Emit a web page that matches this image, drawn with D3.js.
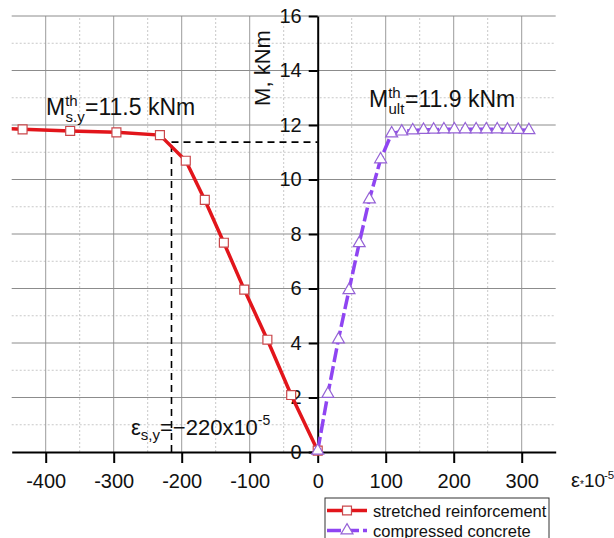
<!DOCTYPE html>
<html>
<head>
<meta charset="utf-8">
<script src="https://cdn.jsdelivr.net/npm/d3@7"></script>
<style>
  body { margin: 0; background: #fff; }
  text { font-family: "Liberation Sans", Arial, sans-serif; fill: #111; }
</style>
</head>
<body>
<svg id="chart"></svg>
<script>
// strain, x10^-5
const reinfStrain = [-465, -434, -364, -296, -232, -194, -166, -138, -108, -74, -39, 0];
// moment, kNm
const reinfMoment = [11.88, 11.84, 11.78, 11.73, 11.63, 10.69, 9.25, 7.68, 5.96, 4.12, 2.09, 0.05];

const concStrain = [0, 15, 30.5, 46, 61, 76, 92.5, 108.8, 123.6, 139.8, 155.6, 170.5, 185.6, 201, 217, 233, 248, 264, 279, 295, 310.6];
const concMoment = [0.05, 2.13, 4.13, 5.94, 7.66, 9.27, 10.74, 11.69, 11.76, 11.8, 11.82, 11.83, 11.84, 11.84, 11.84, 11.84, 11.84, 11.84, 11.83, 11.82, 11.81];

const seriesNames = ["stretched reinforcement", "compressed concrete"];
const xMajorTicks = [-400, -300, -200, -100, 0, 100, 200, 300];
const xMinorTicks = [-450, -350, -250, -150, -50, 50, 150, 250, 350];
const yMajorTicks = [0, 2, 4, 6, 8, 10, 12, 14, 16];
const yMinorTicks = [1, 3, 5, 7, 9, 11, 13, 15];

const yieldStrain = -215;
const yieldMoment = 11.37;

const W = 614, H = 538;
const red = "#e2151b", purple = "#8f45f2";

const svg = d3.select("#chart").attr("width", W).attr("height", H);

const x = d3.scaleLinear().domain([-450, 350]).range([11.7, 555.7]);
const y = d3.scaleLinear().domain([0, 16]).range([452, 16]);

// grid
const grid = svg.append("g");
grid.selectAll(".vminor").data(xMinorTicks.filter(d => d > -450 && d < 350)).join("line")
    .attr("x1", d => x(d)).attr("x2", d => x(d))
    .attr("y1", y(0)).attr("y2", y(16))
    .attr("stroke", "#c8c8c8").attr("stroke-dasharray", "2,2");
grid.selectAll(".hminor").data(yMinorTicks).join("line")
    .attr("x1", x(-450)).attr("x2", x(350))
    .attr("y1", d => y(d)).attr("y2", d => y(d))
    .attr("stroke", "#c8c8c8").attr("stroke-dasharray", "2,2");
grid.selectAll(".vmajor").data(xMajorTicks.filter(d => d !== 0)).join("line")
    .attr("x1", d => x(d)).attr("x2", d => x(d))
    .attr("y1", y(0)).attr("y2", y(16))
    .attr("stroke", "#9c9c9c");
grid.selectAll(".hmajor").data(yMajorTicks.filter(d => d !== 0)).join("line")
    .attr("x1", x(-450)).attr("x2", x(350))
    .attr("y1", d => y(d)).attr("y2", d => y(d))
    .attr("stroke", "#8c8c8c");

// axes (plain hyphen for negatives, like the original)
const fmt = d => String(d);
const xAxis = svg.append("g").attr("transform", `translate(0,${y(0)})`);
xAxis.call(d3.axisBottom(x).tickValues(xMinorTicks).tickSize(7).tickSizeOuter(0).tickFormat(""));
xAxis.call(d3.axisBottom(x).tickValues(xMajorTicks).tickSize(11).tickSizeOuter(0).tickPadding(11)
    .tickFormat(fmt));
xAxis.selectAll("path, line").attr("stroke", "#000").attr("stroke-width", 2);
xAxis.selectAll("text").attr("font-size", 20).attr("font-family", null).attr("fill", "#111");

const yAxis = svg.append("g").attr("transform", `translate(${x(0)},0)`);
yAxis.call(d3.axisLeft(y).tickValues(yMinorTicks).tickSize(5).tickSizeOuter(0).tickFormat(""));
yAxis.call(d3.axisLeft(y).tickValues(yMajorTicks).tickSize(9).tickSizeOuter(0).tickPadding(7)
    .tickFormat(fmt));
yAxis.selectAll("path, line").attr("stroke", "#000").attr("stroke-width", 2);
yAxis.selectAll("text").attr("font-size", 20).attr("font-family", null).attr("fill", "#111");

// dashed yield lines
svg.append("line")
    .attr("x1", x(yieldStrain)).attr("x2", x(yieldStrain))
    .attr("y1", y(0)).attr("y2", y(yieldMoment))
    .attr("stroke", "#000").attr("stroke-width", 1.6).attr("stroke-dasharray", "7,5");
svg.append("line")
    .attr("x1", x(yieldStrain)).attr("x2", x(0))
    .attr("y1", y(yieldMoment)).attr("y2", y(yieldMoment))
    .attr("stroke", "#000").attr("stroke-width", 1.6).attr("stroke-dasharray", "7,5");

// series
svg.append("clipPath").attr("id", "plotClip").append("rect")
    .attr("x", x(-450)).attr("y", 0).attr("width", x(350) - x(-450)).attr("height", H);
const plot = svg.append("g").attr("clip-path", "url(#plotClip)");

const reinf = reinfStrain.map((d, i) => [d, reinfMoment[i]]);
const conc = concStrain.map((d, i) => [d, concMoment[i]]);
const line = d3.line().x(d => x(d[0])).y(d => y(d[1]));

plot.append("path").datum(reinf).attr("d", line)
    .attr("fill", "none").attr("stroke", red).attr("stroke-width", 3.5);
plot.append("path").datum(conc).attr("d", line)
    .attr("fill", "none").attr("stroke", purple).attr("stroke-width", 3.5)
    .attr("stroke-dasharray", "14,4");

const square = d3.symbol().type(d3.symbolSquare).size(80);
const triangle = d3.symbol().type(d3.symbolTriangle).size(62);

plot.selectAll(".sq").data(reinf).join("path")
    .attr("d", square)
    .attr("transform", d => `translate(${x(d[0])},${y(d[1])})`)
    .attr("fill", "#fff").attr("stroke", "#c9474b").attr("stroke-width", 1.2);
plot.selectAll(".tri").data(conc).join("path")
    .attr("d", triangle)
    .attr("transform", d => `translate(${x(d[0])},${y(d[1])})`)
    .attr("fill", "#fff").attr("stroke", "#9562d6").attr("stroke-width", 1.2);

// axis titles
svg.append("text")
    .attr("transform", "translate(270,68) rotate(-90)")
    .attr("text-anchor", "middle").attr("font-size", 22)
    .text("M, kNm");

const xt = svg.append("text").attr("x", 571).attr("y", 487).attr("font-size", 20);
xt.append("tspan").text("ε");
xt.append("tspan").attr("x", 580).attr("font-size", 10).attr("dy", 1).text("*");
xt.append("tspan").attr("x", 584).attr("dy", -1).attr("font-size", 19).text("10");
xt.append("tspan").attr("x", 604).attr("font-size", 11.5).attr("dy", -8).text("-5");

// annotations
const m1 = svg.append("text").attr("x", 46).attr("y", 115).attr("font-size", 23);
m1.append("tspan").text("M");
m1.append("tspan").attr("font-size", 15).attr("dy", -9).text("th");
m1.append("tspan").attr("x", 65.5).attr("font-size", 15).attr("dy", 16).text("s.y");
m1.append("tspan").attr("x", 85).attr("dy", -7).text("=11.5 kNm");

const m2 = svg.append("text").attr("x", 369).attr("y", 107).attr("font-size", 23);
m2.append("tspan").text("M");
m2.append("tspan").attr("font-size", 15).attr("dy", -9).text("th");
m2.append("tspan").attr("x", 388.5).attr("font-size", 15).attr("dy", 16).text("ult");
m2.append("tspan").attr("x", 405).attr("dy", -7).text("=11.9 kNm");

const e1 = svg.append("text").attr("x", 131).attr("y", 435).attr("font-size", 22);
e1.append("tspan").text("ε");
e1.append("tspan").attr("font-size", 15).attr("dy", 5).text("s,y");
e1.append("tspan").attr("dy", -5).text("=−220x10");
e1.append("tspan").attr("font-size", 14).attr("dy", -10).text("-5");

// legend
const lg = svg.append("g");
lg.append("rect").attr("x", 325).attr("y", 498).attr("width", 224).attr("height", 60)
    .attr("fill", "#fff").attr("stroke", "#333").attr("stroke-width", 1);
const legendRows = [
    { name: seriesNames[0], color: red, dash: null, sym: square, mk: "#c9474b" },
    { name: seriesNames[1], color: purple, dash: "14,4", sym: triangle, mk: "#9562d6" }
];
legendRows.forEach((r, i) => {
    const cy = 510.5 + i * 20;
    lg.append("line").attr("x1", 327).attr("x2", 367).attr("y1", cy).attr("y2", cy)
        .attr("stroke", r.color).attr("stroke-width", 3.5).attr("stroke-dasharray", r.dash);
    lg.append("path").attr("d", r.sym).attr("transform", `translate(347,${cy})`)
        .attr("fill", "#fff").attr("stroke", r.mk).attr("stroke-width", 1.2);
    lg.append("text").attr("x", 373).attr("y", cy + 6).attr("font-size", 16.5).text(r.name);
});
</script>
</body>
</html>
